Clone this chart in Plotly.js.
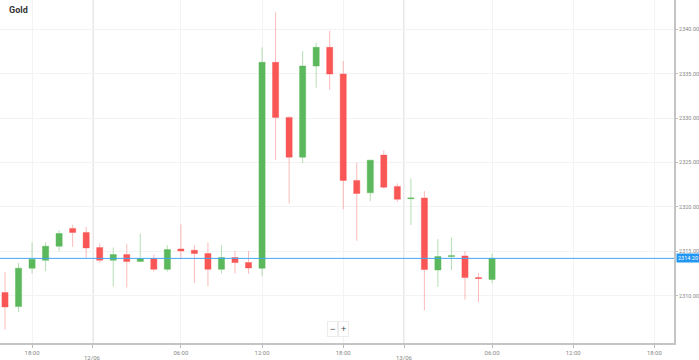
<!DOCTYPE html>
<html>
<head>
<meta charset="utf-8">
<script src="https://cdn.plot.ly/plotly-3.0.1.min.js"></script>
<style>html,body{margin:0;padding:0;background:#fff;}#chart{width:699px;height:360px;}</style>
</head>
<body>
<div id="chart"></div>
<script>
// Hourly candles, 11/06 17:00 .. 13/06 06:00 (daily 23:00 break removed)
const opens  = [2310.35,2308.77,2313.09,2313.99,2315.57,2317.57,2317.11,2315.42,2313.99,2314.63,
                2313.84,2314.18,2312.97,2315.26,2315.12,2314.75,2312.97,2314.29,2313.73,2313.09,
                2336.28,2330.08,2325.60,2335.86,2337.97,2334.96,2322.98,2321.59,2325.83,2322.30,
                2320.92,2321.01,2312.90,2314.40,2314.48,2312.04,2311.82];
const highs  = [2312.67,2313.69,2315.99,2315.99,2317.37,2317.97,2317.75,2315.88,2315.42,2315.84,
                2317.00,2314.63,2315.68,2318.02,2315.68,2315.99,2315.68,2315.04,2315.04,2337.97,
                2341.92,2330.22,2337.55,2338.49,2339.84,2336.43,2324.96,2325.30,2326.39,2322.64,
                2323.20,2321.77,2316.36,2316.55,2315.00,2312.56,2314.74];
const lows   = [2306.18,2308.16,2312.49,2312.78,2315.00,2315.49,2314.25,2313.69,2311.03,2310.91,
                2313.80,2312.72,2312.72,2314.07,2311.43,2311.06,2312.49,2312.49,2312.49,2312.20,
                2325.26,2320.38,2324.96,2333.42,2333.16,2319.74,2316.17,2320.64,2322.07,2320.56,
                2317.94,2308.35,2310.98,2312.86,2309.56,2309.29,2311.43];
const closes = [2308.73,2313.09,2314.10,2315.57,2317.00,2317.11,2315.38,2313.99,2314.63,2313.84,
                2314.18,2312.97,2315.19,2315.04,2314.75,2312.97,2314.29,2313.73,2313.12,2336.28,
                2330.08,2325.60,2335.86,2337.97,2334.96,2322.98,2321.51,2325.26,2322.22,2320.87,
                2321.00,2312.94,2314.41,2314.50,2312.04,2311.93,2314.20];

// x-axis ticks (in candle slots) and their labels
const tickPos   = [2, 6.5, 13, 19, 25, 29.5, 36, 42, 48];
const tickText  = ['18:00', '12/06', '06:00', '12:00', '18:00', '13/06', '06:00', '12:00', '18:00'];
const dateTicks = ['12/06', '13/06'];

const yTicks = [2310, 2315, 2320, 2325, 2330, 2335, 2340];

const x = opens.map((_, i) => i);
const currentPrice = closes[closes.length - 1];

const GREEN = '#5cb85c', RED = '#f95656';
const FONT = 'Roboto, Arial, sans-serif';

const trace = {
  type: 'candlestick',
  x: x, open: opens, high: highs, low: lows, close: closes,
  increasing: {line: {color: 'rgba(92,184,92,0.45)', width: 1}, fillcolor: GREEN},
  decreasing: {line: {color: 'rgba(249,86,86,0.4)', width: 1}, fillcolor: RED},
  whiskerwidth: 0,
  hoverinfo: 'none'
};

const shapes = [];
const annotations = [];
tickPos.forEach((p, k) => {
  if (dateTicks.includes(tickText[k])) {
    shapes.push({type: 'line', xref: 'x', yref: 'paper', x0: p, x1: p, y0: 0, y1: 1,
                 line: {color: '#e8e8e8', width: 2}, layer: 'below'});
    annotations.push({xref: 'x', yref: 'paper', x: p, y: 0, yshift: -9, xanchor: 'center', yanchor: 'top',
                      text: tickText[k], showarrow: false, font: {family: FONT, size: 6, color: '#888'}});
  }
});
shapes.push({type: 'line', xref: 'paper', yref: 'y', x0: 0, x1: 1, y0: currentPrice, y1: currentPrice,
             line: {color: '#42a5f5', width: 1}});

annotations.push(
  {xref: 'paper', yref: 'y', x: 1, y: currentPrice, xanchor: 'left', yanchor: 'middle', xshift: 2,
   text: currentPrice.toFixed(2), showarrow: false, bgcolor: '#2196f3', borderpad: 1,
   font: {family: FONT, size: 5.5, color: '#ffffff'}},
  {xref: 'paper', yref: 'paper', x: 0.5015, y: 0, yshift: 6, xanchor: 'right', yanchor: 'bottom',
   text: '−', showarrow: false, bgcolor: '#ffffff', bordercolor: '#ececec', borderwidth: 1, borderpad: 2,
   font: {family: 'Arial, sans-serif', size: 9, color: '#444'}},
  {xref: 'paper', yref: 'paper', x: 0.5015, y: 0, yshift: 6, xanchor: 'left', yanchor: 'bottom',
   text: '+', showarrow: false, bgcolor: '#ffffff', bordercolor: '#ececec', borderwidth: 1, borderpad: 2,
   font: {family: 'Arial, sans-serif', size: 9, color: '#444'}}
);

const layout = {
  width: 699, height: 360,
  margin: {l: 0, r: 25, t: 0, b: 17, pad: 0},
  paper_bgcolor: '#ffffff', plot_bgcolor: '#ffffff',
  showlegend: false,
  boxgap: 0.35,
  title: {text: '<b>Gold</b>', x: 0.013, xanchor: 'left', y: 0.972, yanchor: 'middle',
          font: {family: FONT, size: 9, color: '#333'}},
  xaxis: {
    type: 'linear', range: [-0.37, 49.45],
    rangeslider: {visible: false},
    tickmode: 'array', tickvals: tickPos,
    ticktext: tickText.map(t => dateTicks.includes(t) ? '' : t),
    ticks: 'outside', ticklen: 3, tickcolor: '#bbbbbb',
    tickfont: {family: FONT, size: 6, color: '#888'},
    showgrid: true, gridcolor: '#f3f3f3', gridwidth: 1,
    showline: true, linecolor: '#c4c4c4', linewidth: 2,
    zeroline: false, fixedrange: true
  },
  yaxis: {
    side: 'right', range: [2304.67, 2343.3],
    tickmode: 'array', tickvals: yTicks, ticktext: yTicks.map(v => v.toFixed(2)),
    ticks: 'outside', ticklen: 2, tickcolor: '#bbbbbb',
    tickfont: {family: FONT, size: 5.5, color: '#888'},
    showgrid: true, gridcolor: '#f3f3f3', gridwidth: 1,
    showline: true, linecolor: '#c4c4c4', linewidth: 2,
    zeroline: false, fixedrange: true
  },
  shapes: shapes,
  annotations: annotations
};

Plotly.newPlot('chart', [trace], layout, {displayModeBar: false, staticPlot: true});
</script>
</body>
</html>
